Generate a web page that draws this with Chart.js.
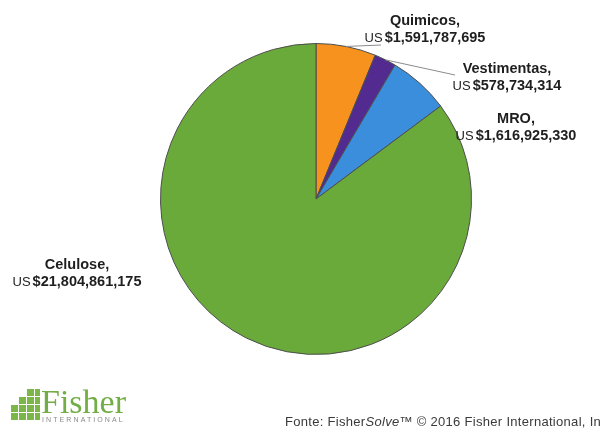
<!DOCTYPE html>
<html>
<head>
<meta charset="utf-8">
<script src="https://cdn.jsdelivr.net/npm/chart.js@4/dist/chart.umd.min.js"></script>
<style>
  html, body { margin: 0; padding: 0; background: #fff; }
  #wrap { position: relative; width: 600px; height: 430px; overflow: hidden; }
  #chart { position: absolute; left: 0; top: 0; }
  .blk { position: absolute; background: #7cb548; }
  #logo-name { position: absolute; left: 41px; top: 384px; font-family: "Liberation Serif", "Times New Roman", serif;
               font-size: 34px; line-height: 35px; color: #72ad45; }
  #logo-sub { position: absolute; left: 42px; top: 416px; font-family: "Liberation Sans", Arial, sans-serif;
              font-size: 7px; letter-spacing: 2.1px; color: #8a8a8a; }
  #source { position: absolute; left: 285px; top: 414px; white-space: nowrap;
            font-family: "Liberation Sans", Arial, sans-serif; font-size: 13px; letter-spacing: 0.3px; color: #3a3a3a; }
</style>
</head>
<body>
<div id="wrap">
  <canvas id="chart" width="600" height="430"></canvas>
  <div id="logo"></div>
  <div id="logo-name">Fisher</div>
  <div id="logo-sub">INTERNATIONAL</div>
  <div id="source">Fonte: Fisher<i>Solve</i>™ © 2016 Fisher International, Inc.</div>
</div>
<script>
var categories = ["Quimicos", "Vestimentas", "MRO", "Celulose"];
var values = [1591787695, 578734314, 1616925330, 21804861175];
var colors = ["#f7921e", "#532a8f", "#3b8edb", "#6aaa3a"];

// where each label sits: center x, first line y, second line y, leader end (or null)
var labelLayout = [
    { x: 425, y1: 21, y2: 38, lead: [381, 45] },
    { x: 507, y1: 69, y2: 86, lead: [455, 75] },
    { x: 516, y1: 119, y2: 136, lead: null },
    { x: 77, y1: 265, y2: 282, lead: null }
];

function money(v){
    return "$" + v.toLocaleString("en-US");
}

var labelPlugin = {
    id: "sliceLabels",
    afterDatasetsDraw: function(chart){
        var ctx = chart.ctx;
        var meta = chart.getDatasetMeta(0);
        ctx.save();
        // leader lines from the slice edge to the label
        meta.data.forEach(function(arc, i){
            var lay = labelLayout[i];
            if (!lay.lead) return;
            var mid = (arc.startAngle + arc.endAngle) / 2;
            ctx.beginPath();
            ctx.moveTo(arc.x + Math.cos(mid) * arc.outerRadius, arc.y + Math.sin(mid) * arc.outerRadius);
            ctx.lineTo(lay.lead[0], lay.lead[1]);
            ctx.strokeStyle = "#8c8c8c";
            ctx.lineWidth = 1;
            ctx.stroke();
        });
        ctx.fillStyle = "#1e1e1e";
        ctx.textBaseline = "middle";
        var bold = "bold 14.5px 'Liberation Sans', Arial, sans-serif";
        var plain = "13px 'Liberation Sans', Arial, sans-serif";
        categories.forEach(function(name, i){
            var lay = labelLayout[i];
            ctx.font = bold;
            ctx.textAlign = "center";
            ctx.fillText(name + ",", lay.x, lay.y1);
            var us = "US";
            var amount = money(values[i]);
            ctx.font = plain;
            var wUs = ctx.measureText(us).width;
            ctx.font = bold;
            var wAmt = ctx.measureText(amount).width;
            var gap = 2;
            var left = lay.x - (wUs + gap + wAmt) / 2;
            ctx.textAlign = "left";
            ctx.font = plain;
            ctx.fillText(us, left, lay.y2);
            ctx.font = bold;
            ctx.fillText(amount, left + wUs + gap, lay.y2);
        });
        ctx.restore();
    }
};

// staircase blocks of the logo
var blocks = [
    [11, 413, 7, 7], [11, 405, 7, 7],
    [19, 413, 7, 7], [19, 405, 7, 7], [19, 397, 7, 7],
    [27, 413, 7, 7], [27, 405, 7, 7], [27, 397, 7, 7], [27, 389, 7, 7],
    [35, 413, 5, 7], [35, 405, 5, 7], [35, 397, 5, 7], [35, 389, 5, 7]
];
var logo = document.getElementById("logo");
blocks.forEach(function(b){
    var d = document.createElement("div");
    d.className = "blk";
    d.style.left = b[0] + "px";
    d.style.top = b[1] + "px";
    d.style.width = b[2] + "px";
    d.style.height = b[3] + "px";
    logo.appendChild(d);
});

new Chart(document.getElementById("chart"), {
    type: "pie",
    data: {
        labels: categories,
        datasets: [{
            data: values,
            backgroundColor: colors,
            borderColor: "#4d4d4d",
            borderWidth: 1
        }]
    },
    options: {
        responsive: false,
        animation: false,
        layout: { padding: { left: 160, right: 128, top: 43, bottom: 75 } },
        plugins: {
            legend: { display: false },
            tooltip: { enabled: false }
        }
    },
    plugins: [labelPlugin]
});
</script>
</body>
</html>
